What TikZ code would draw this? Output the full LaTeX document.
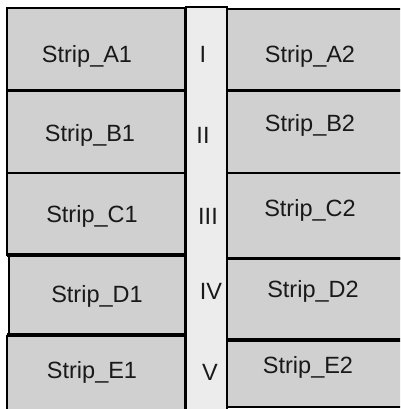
\documentclass[tikz,border=0pt]{standalone}
\usepackage{fontspec}
\setmainfont{Liberation Sans}
\begin{document}
\begin{tikzpicture}[x=1pt,y=-1pt,
  cell/.style={draw=black, fill=gray!37, line width=1.6pt},
  midband/.style={draw=black, fill=gray!15, line width=1.6pt},
  sep/.style={line width=3.8pt, black},
  lbl/.style={anchor=base, font=\fontsize{23.5}{26}\selectfont, text=black!90, inner sep=0pt}]
\useasboundingbox (0,0) rectangle (400,409);
\begin{scope}
\clip (0,0) rectangle (400,409);
% central band with the roman numerals
\draw[midband] (186,7) rectangle (227,415);
% left column
\draw[cell] (7,8) rectangle (185,90);
\draw[cell] (7,91) rectangle (185,173);
\draw[cell] (7,173) rectangle (185,255);
\draw[cell, line width=2.6pt] (9,256) rectangle (185,334);
\draw[cell] (7,336) rectangle (185,415);
% right column
\draw[cell] (227,9) rectangle (405,90);
\draw[cell] (227,91) rectangle (405,173);
\draw[cell] (227,173) rectangle (405,258);
\draw[cell] (227,259) rectangle (405,339);
\draw[cell] (227,341) rectangle (405,407);
% heavy separators between strips
\draw[sep] (7,90.5) -- (186,90.5);
\draw[sep] (7,255) -- (186,255);
\draw[sep] (7,335) -- (186,335);
\draw[sep] (226,90.5) -- (405,90.5);
\draw[sep] (226,258.5) -- (405,258.5);
\end{scope}
% strip labels
\node[lbl] (a1) at (87,63) {Strip\_A1};
\node[lbl] (b1) at (90,141) {Strip\_B1};
\node[lbl] (c1) at (92,222) {Strip\_C1};
\node[lbl] (d1) at (97,302) {Strip\_D1};
\node[lbl] (e1) at (92,378) {Strip\_E1};
\node[lbl] (a2) at (310,63) {Strip\_A2};
\node[lbl] (b2) at (310,131) {Strip\_B2};
\node[lbl] (c2) at (310,216) {Strip\_C2};
\node[lbl] (d2) at (313,297) {Strip\_D2};
\node[lbl] (e2) at (308,373) {Strip\_E2};
% roman numerals
\node[lbl] (r1) at (203,63) {I};
\node[lbl] (r2) at (203,143) {II};
\node[lbl] (r3) at (208,224) {III};
\node[lbl] (r4) at (211,299) {IV};
\node[lbl] (r5) at (210,380) {V};
\end{tikzpicture}
\end{document}
